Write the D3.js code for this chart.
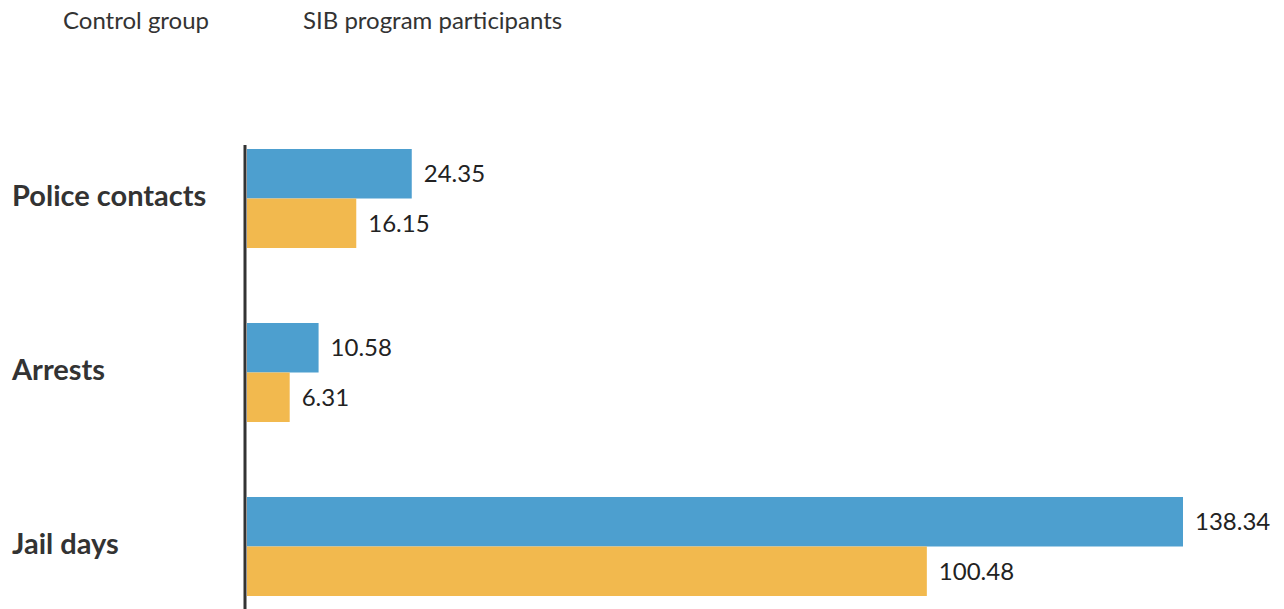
<!DOCTYPE html>
<html>
<head>
<meta charset="utf-8">
<script src="https://cdn.jsdelivr.net/npm/d3@7"></script>
<style>
  body { margin: 0; background: #fff; }
  text { font-family: Lato, "Open Sans", sans-serif; }
</style>
</head>
<body>
<script>
// data
var categories = ["Police contacts", "Arrests", "Jail days"];
var seriesNames = ["Control group", "SIB program participants"];
var controlValues = [24.35, 10.58, 138.34];
var sibValues = [16.15, 6.31, 100.48];
var valueLabels = [["24.35", "16.15"], ["10.58", "6.31"], ["138.34", "100.48"]];

var w = 1284, h = 609;
var colors = ["#4d9fcf", "#f2b94e"];

var svg = d3.select("body").append("svg")
    .attr("width", w).attr("height", h);

var x = d3.scaleLinear().domain([0, 138.34]).range([247, 1183]);
var y = d3.scaleBand().domain(categories).range([149, 596]).paddingInner(0.431).paddingOuter(0);
var inner = d3.scaleBand().domain(seriesNames).range([0, y.bandwidth()]);

var rows = categories.map(function(c, i) {
    return { cat: c, vals: [controlValues[i], sibValues[i]], labels: valueLabels[i] };
});

// legend text (no swatches in the original)
svg.selectAll(".legend")
    .data(seriesNames)
    .enter().append("text")
    .attr("x", function(d, i) { return i == 0 ? 63 : 303; })
    .attr("y", 29)
    .attr("font-size", 24)
    .attr("fill", "#333")
    .text(function(d) { return d; });

var g = svg.selectAll(".row")
    .data(rows)
    .enter().append("g")
    .attr("transform", function(d) { return "translate(0," + y(d.cat) + ")"; });

g.selectAll("rect")
    .data(function(d) { return d.vals.map(function(v, i) { return { v: v, s: seriesNames[i], i: i, label: d.labels[i] }; }); })
    .enter().append("rect")
    .attr("x", x(0))
    .attr("y", function(d) { return inner(d.s); })
    .attr("width", function(d) { return x(d.v) - x(0); })
    .attr("height", inner.bandwidth())
    .attr("fill", function(d) { return colors[d.i]; });

g.selectAll(".val")
    .data(function(d) { return d.vals.map(function(v, i) { return { v: v, s: seriesNames[i], label: d.labels[i] }; }); })
    .enter().append("text")
    .attr("x", function(d) { return x(d.v) + 12; })
    .attr("y", function(d) { return inner(d.s) + inner.bandwidth() / 2; })
    .attr("dy", "0.35em")
    .attr("font-size", 24)
    .attr("fill", "#222")
    .text(function(d) { return d.label; });

g.append("text")
    .attr("x", 12)
    .attr("y", y.bandwidth() / 2 - 3)
    .attr("dy", "0.35em")
    .attr("font-size", 29)
    .attr("font-weight", "bold")
    .attr("fill", "#333")
    .text(function(d) { return d.cat; });

// vertical axis line
svg.append("line")
    .attr("x1", 245).attr("x2", 245)
    .attr("y1", 145).attr("y2", h)
    .attr("stroke", "#333")
    .attr("stroke-width", 3);
</script>
</body>
</html>
